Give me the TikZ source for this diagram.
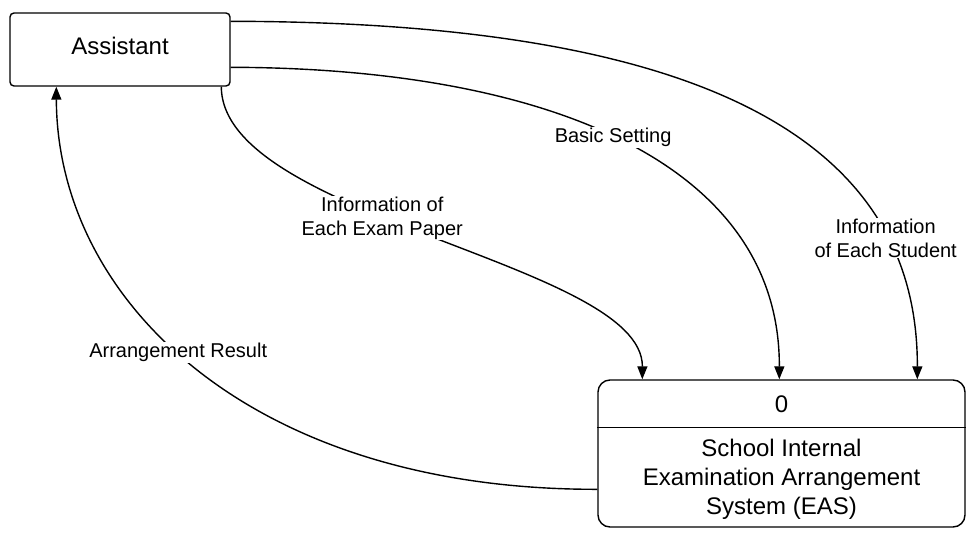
\documentclass[tikz,border=0pt]{standalone}
\usepackage{fontspec}
\setmainfont{Liberation Sans}
\usetikzlibrary{arrows.meta,calc}
\begin{document}
\begin{tikzpicture}[x=1pt,y=-1pt,
  bigtext/.style={font=\fontsize{24}{29}\selectfont},
  extbox/.style={draw, line width=1.4pt, rounded corners=4pt, minimum width=220pt, minimum height=73pt, inner sep=0pt, bigtext},
  procbox/.style={draw, line width=1.4pt, rounded corners=12pt, minimum width=367pt, minimum height=147pt, inner sep=0pt},
  flow/.style={line width=1.4pt, -{Triangle[length=13pt,width=10pt]}},
  lbl/.style={fill=white, inner sep=1pt, align=center, font=\fontsize{20}{24}\selectfont}]
\useasboundingbox (0,0) rectangle (977,538);
\node[extbox, text height=17pt, text depth=8pt] (asst) at (120,49.5) {Assistant};
\node[procbox] (proc) at (781.5,453.5) {};
\draw[line width=1.4pt] ($(proc.north west)+(0,48)$) coordinate (dl) -- ($(proc.north east)+(0,48)$) coordinate (dr);
\node[bigtext] (num) at (781.5,404) {0};
\node[bigtext, align=center] (title) at (781.5,479.5) {School Internal\\Examination Arrangement\\System (EAS)};
% flows
\draw[flow] ($(asst.north east)+(0,9)$) .. controls (700,22) and (918,138) .. ($(proc.north west)+(320,0)$)
  node[lbl, pos=.78] (l4) {Information\\of Each Student};
\draw[flow] ($(asst.north east)+(0,55)$) .. controls (550,68) and (780,165) .. ($(proc.north west)+(182,0)$)
  node[lbl, pos=.48] (l3) {Basic Setting};
\draw[flow] ($(asst.south west)+(212,0)$) .. controls (222,218) and (643,263) .. ($(proc.north west)+(45,0)$)
  node[lbl, pos=.42] (l2) {Information of\\Each Exam Paper};
\draw[flow] ($(proc.north west)+(0,110)$) .. controls (250,490) and (57,300) .. ($(asst.south west)+(47,0)$)
  node[lbl, pos=.535] (l1) {Arrangement Result};
\end{tikzpicture}
\end{document}
